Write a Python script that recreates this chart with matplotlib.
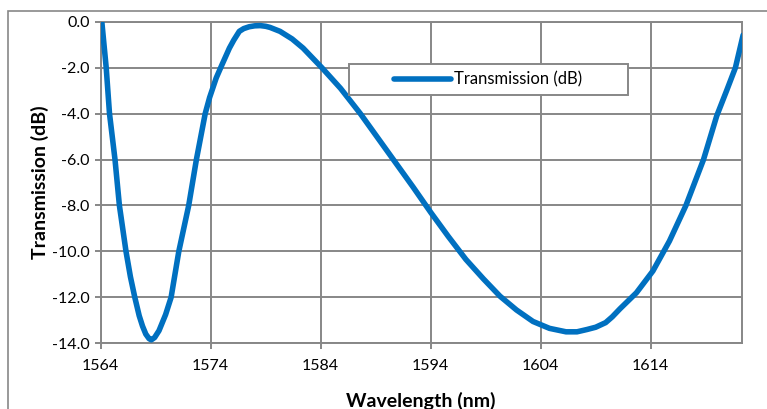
import matplotlib
matplotlib.use("Agg")
import matplotlib.pyplot as plt
from matplotlib.patches import Rectangle

# wavelength (nm) and transmission (dB)
wavelength = [1564.1, 1564.5, 1564.8, 1565.3, 1565.7, 1566.3, 1566.7, 1567.1, 1567.5, 1567.8,
              1568.1, 1568.4, 1568.6, 1568.9, 1569.3, 1569.9, 1570.4, 1571.1, 1572.0, 1572.7,
              1573.5, 1573.9, 1574.5, 1575.0, 1575.7, 1576.1, 1576.6, 1577.0, 1577.5, 1578.0,
              1578.5, 1579.0, 1579.4, 1580.3, 1581.4, 1582.4, 1584.1, 1585.8, 1587.6, 1589.1,
              1590.6, 1592.4, 1594.0, 1595.6, 1597.2, 1598.8, 1600.3, 1601.8, 1603.3, 1604.8,
              1606.3, 1607.3, 1608.2, 1609.0, 1609.9, 1610.5, 1611.2, 1612.7, 1614.2, 1615.7,
              1617.2, 1618.8, 1620.0, 1620.9, 1621.7, 1622.4]
transmission = [0.0, -2.0, -4.0, -6.0, -8.0, -10.0, -11.1, -12.0, -12.8, -13.25,
                -13.6, -13.8, -13.85, -13.75, -13.45, -12.75, -12.0, -10.0, -8.0, -6.0,
                -4.0, -3.3, -2.45, -1.9, -1.15, -0.8, -0.42, -0.3, -0.22, -0.18,
                -0.17, -0.2, -0.25, -0.42, -0.75, -1.15, -2.0, -2.9, -4.0, -5.0,
                -6.0, -7.2, -8.3, -9.35, -10.35, -11.2, -11.95, -12.55, -13.05, -13.35,
                -13.5, -13.5, -13.4, -13.3, -13.1, -12.85, -12.5, -11.8, -10.85, -9.55,
                -8.0, -6.0, -4.1, -3.0, -2.0, -0.58]

xticks = [1564, 1574, 1584, 1594, 1604, 1614]
yticks = [0, -2, -4, -6, -8, -10, -12, -14]

plt.rcParams['font.family'] = ['Lato', 'DejaVu Sans']
plt.rcParams['axes.unicode_minus'] = False

W, H = 767, 409
fig = plt.figure(figsize=(W / 100, H / 100), dpi=100)
ax = fig.add_axes([100.7 / W, 1 - 343.3 / H, 641 / W, 321.6 / H])

grey = '#878787'
ax.plot(wavelength, transmission, color='#0070C0', lw=4, solid_capstyle='round',
        solid_joinstyle='round', label='Transmission (dB)', zorder=3)

ax.set_xlim(1564, 1622.27)
ax.set_ylim(-14, 0)
ax.set_xticks(xticks)
ax.set_yticks(yticks)
ax.set_yticklabels(['%.1f' % v for v in yticks])
ax.grid(True, color=grey, lw=1.4)
ax.set_axisbelow(True)
for s in ax.spines.values():
    s.set_color(grey)
    s.set_linewidth(1.4)
ax.tick_params(length=4, width=1.4, color=grey, labelsize=11.5, labelcolor='black', pad=4)
ax.tick_params(axis='x', pad=7)

ax.set_xlabel('Wavelength (nm)', fontsize=14, fontweight='bold', labelpad=14)
ax.set_ylabel('Transmission (dB)', fontsize=14, fontweight='bold', labelpad=2)

# legend box as in the spreadsheet chart
box = Rectangle(((349 - 100.7) / 641, 1 - (95 - 21.7) / 321.6), 279 / 641, 31 / 321.6,
                transform=ax.transAxes, facecolor='white', edgecolor=grey, lw=1.4, zorder=4)
ax.add_patch(box)
ax.legend(loc='center left', bbox_to_anchor=((394 - 100.7) / 641, 1 - (79.5 - 21.7) / 321.6),
          frameon=False, fontsize=12, handlelength=3.4, handletextpad=0.2, borderpad=0,
          borderaxespad=0)

# outer chart border
fig.patches.append(Rectangle((8 / W, -0.2), 1.2, 1.2 - 11 / H, transform=fig.transFigure,
                             facecolor='none', edgecolor=grey, lw=1.2))

fig.savefig('out.png', dpi=100)
